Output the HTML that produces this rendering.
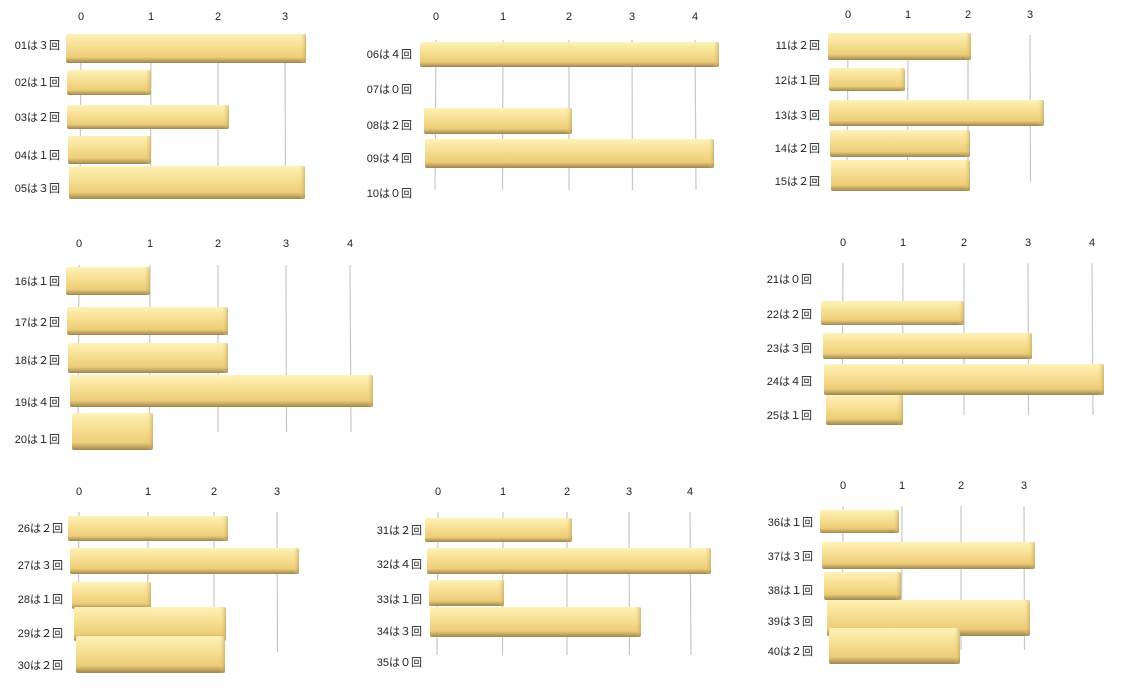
<!DOCTYPE html>
<html><head><meta charset="utf-8">
<style>
html,body{margin:0;padding:0;background:#fff;}
svg{display:block;}
text{font-family:"Liberation Sans","Noto Sans CJK JP",sans-serif;font-size:11px;fill:#222;}
</style></head><body>
<svg id="s" width="1130" height="695" xmlns="http://www.w3.org/2000/svg">
<defs>
<linearGradient id="g" x1="0" y1="0" x2="0" y2="1">
<stop offset="0" stop-color="#fff2b8"/>
<stop offset="0.35" stop-color="#f9e298"/>
<stop offset="0.8" stop-color="#eccd78"/>
<stop offset="1" stop-color="#9c8650"/>
</linearGradient>
<linearGradient id="c" x1="0" y1="0" x2="1" y2="0">
<stop offset="0" stop-color="#f3d880" stop-opacity="0"/>
<stop offset="1" stop-color="#b89c5c"/>
</linearGradient>
</defs>
</svg>
<script>
var P=[
{tx:[81,151,218,285],ty:20,gy:[40,195],lx:60,
 b:[["01は３回",45,66,306,34,63],["02は１回",82,67,151,70,95],["03は２回",117,67,229,105,129],["04は１回",155,68,151,136,164],["05は３回",188,69,305,166,199]]},
{tx:[436,503,569,632,695],ty:20,gy:[40,190],lx:412,
 b:[["06は４回",54,420,719,42,67],["07は０回",89],["08は２回",125,424,572,108,134],["09は４回",158,425,714,139,168],["10は０回",193]]},
{tx:[848,908,968,1030],ty:18,gy:[35,182],lx:820,
 b:[["11は２回",45,828,971,33,60],["12は１回",80,829,905,68,91],["13は３回",115,829,1044,100,126],["14は２回",148,830,970,130,157],["15は２回",181,831,970,160,191]]},
{tx:[79,150,218,286,350],ty:247,gy:[265,432],lx:60,
 b:[["16は１回",281,66,150,267,295],["17は２回",322,67,228,307,335],["18は２回",360,68,228,343,373],["19は４回",402,70,373,375,407],["20は１回",439,72,153,413,450]]},
{tx:[843,903,964,1028,1092],ty:246,gy:[263,415],lx:812,
 b:[["21は０回",279],["22は２回",314,821,964,301,325],["23は３回",348,823,1032,333,359],["24は４回",381,824,1104,364,395],["25は１回",415,826,903,395,425]]},
{tx:[79,148,214,277],ty:495,gy:[512,652],lx:63,
 b:[["26は２回",528,68,228,516,541],["27は３回",565,70,299,548,574],["28は１回",599,72,151,582,609],["29は２回",633,74,226,607,641],["30は２回",665,76,225,636,673]]},
{tx:[438,503,567,629,690],ty:495,gy:[512,655],lx:422,
 b:[["31は２回",530,425,572,518,542],["32は４回",564,427,711,548,574],["33は１回",599,429,504,580,606],["34は３回",631,430,641,607,637],["35は０回",662]]},
{tx:[843,902,961,1024],ty:489,gy:[506,650],lx:813,
 b:[["36は１回",522,820,899,510,533],["37は３回",556,822,1035,542,569],["38は１回",590,824,901,572,600],["39は３回",621,827,1030,600,636],["40は２回",651,829,960,628,664]]}
];
var s=document.getElementById('s'),h='';
P.forEach(function(p){
 p.tx.forEach(function(x,i){
  h+='<line x1="'+x+'" y1="'+p.gy[0]+'" x2="'+(x+i*0.5-1)+'" y2="'+p.gy[1]+'" stroke="#c8c8c8" stroke-width="1.2"/>';
  h+='<text x="'+x+'" y="'+p.ty+'" text-anchor="middle">'+i+'</text>';
 });
 p.b.forEach(function(b){
  h+='<text x="'+p.lx+'" y="'+(b[1]+4)+'" text-anchor="end">'+b[0]+'</text>';
  if(b.length>2){
   var x=b[2],w=b[3]-b[2],y=b[4],hh=b[5]-b[4];
   h+='<rect x="'+x+'" y="'+y+'" width="'+w+'" height="'+hh+'" rx="2" fill="url(#g)"/>';
   h+='<rect x="'+(x+w-6)+'" y="'+y+'" width="6" height="'+hh+'" rx="2" fill="url(#c)" opacity="0.6"/>';
  }
 });
});
s.insertAdjacentHTML('beforeend',h);
</script>
</body></html>
